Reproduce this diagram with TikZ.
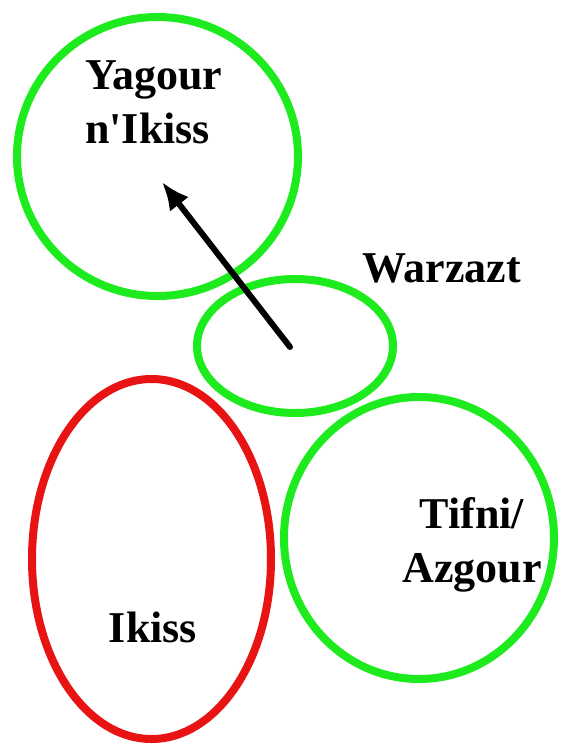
\documentclass[tikz,border=0pt]{standalone}
\usepackage{fontspec}
\setmainfont{Liberation Serif}
\usetikzlibrary{shapes.geometric,arrows.meta}
\definecolor{zonegreen}{RGB}{30,235,30}
\definecolor{zonered}{RGB}{232,20,20}

\begin{document}
\begin{tikzpicture}
 [x=0.75pt, y=-0.75pt,
  zone/.style={ellipse, draw=zonegreen, line width=6pt, inner sep=0pt},
  core zone/.style={zone, draw=zonered},
  place/.style={font=\fontsize{33}{40}\selectfont\bfseries, inner sep=0pt}]

\useasboundingbox (0,0) rectangle (562,747);

\node[zone, minimum width=210.75pt, minimum height=209.25pt] (yagour) at (157.5,156.5) {};
\node[zone, minimum width=147pt, minimum height=100.5pt] (warzazt) at (295,346) {};
\node[zone, minimum width=202.5pt, minimum height=211.5pt] (tifni) at (419,538) {};
\node[core zone, minimum width=179.25pt, minimum height=270pt] (ikiss) at (151.5,559) {};

% base of a two-line label is its last line
\node[place, anchor=base west, align=left] (yagour label) at (85,143) {Yagour\\n\textquotesingle Ikiss};
\node[place, anchor=base west] (warzazt label) at (362,282) {Warzazt};
\node[place, anchor=base, align=center] (tifni label) at (472,582) {Tifni/\\Azgour};
\node[place, anchor=base] (ikiss label) at (153,642) {Ikiss};

\coordinate (tail) at (290,347);
\coordinate (head) at (162,182);
\draw[line width=4.5pt, line cap=round, -{Latex[length=21pt, width=18pt]}] (tail) -- (head);

\end{tikzpicture}
\end{document}
